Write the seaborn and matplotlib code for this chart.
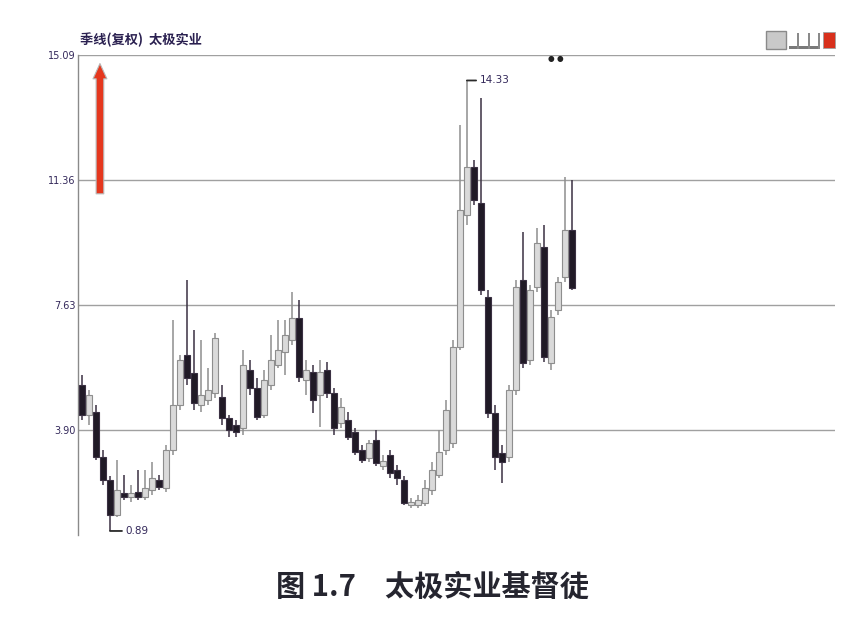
import numpy as np
import pandas as pd
import seaborn as sns
import matplotlib.pyplot as plt
from matplotlib.patches import FancyArrowPatch, Rectangle

# 季线(复权) 太极实业 —— 数值按图读取(估计)
opens = [5.24, 4.35, 4.44, 3.09, 2.41, 1.36, 2.02, 1.90, 2.05, 1.90,
         2.11, 2.41, 2.17, 3.30, 4.65, 6.14, 5.60, 4.65, 4.79, 5.00,
         4.88, 4.26, 4.05, 3.96, 5.69, 5.15, 4.35, 5.24, 5.84, 6.23,
         6.59, 7.24, 5.39, 5.63, 4.94, 5.69, 5.00, 4.11, 4.20, 3.84,
         3.30, 3.06, 3.60, 2.83, 3.15, 2.71, 2.41, 1.66, 1.66, 1.72,
         2.11, 2.56, 3.30, 3.51, 6.38, 10.32, 11.75, 10.67, 7.87, 4.41,
         3.21, 3.09, 5.09, 8.38, 5.99, 8.17, 9.36, 5.90, 7.48, 8.47, 9.87]
highs = [5.54, 5.09, 4.65, 3.30, 2.53, 3.00, 2.56, 2.26, 2.71, 2.71,
         2.94, 2.56, 3.45, 7.18, 6.14, 8.38, 6.88, 6.59, 5.75, 6.79,
         5.24, 4.35, 4.20, 6.29, 5.99, 5.45, 5.69, 6.73, 7.18, 7.18,
         8.02, 7.78, 5.99, 5.84, 5.99, 5.93, 5.15, 4.85, 4.44, 3.96,
         3.45, 3.60, 3.90, 3.15, 3.30, 2.86, 2.53, 1.87, 1.96, 2.41,
         2.94, 3.90, 4.79, 6.59, 13.00, 14.33, 11.96, 13.81, 8.08, 4.65,
         3.45, 5.24, 8.38, 9.81, 8.23, 9.93, 10.02, 7.48, 8.47, 11.45, 11.36]
lows = [4.20, 4.05, 3.00, 2.26, 0.89, 1.30, 1.81, 1.75, 1.81, 1.81,
        1.96, 2.11, 2.05, 3.15, 4.50, 5.24, 4.50, 4.44, 4.65, 4.85,
        4.05, 3.69, 3.69, 3.75, 4.94, 4.20, 4.26, 5.09, 5.75, 5.54,
        6.44, 5.33, 4.94, 4.41, 3.99, 4.85, 3.75, 3.96, 3.60, 3.15,
        2.91, 2.94, 2.83, 2.71, 2.47, 2.26, 1.66, 1.57, 1.57, 1.63,
        1.96, 2.47, 3.15, 3.36, 6.29, 10.02, 10.61, 7.93, 4.26, 2.71,
        2.32, 2.94, 4.94, 5.75, 5.84, 8.02, 5.93, 5.69, 7.33, 8.32, 8.08]
closes = [4.35, 4.94, 3.09, 2.41, 1.36, 2.11, 1.90, 2.02, 1.90, 2.17,
          2.47, 2.20, 3.30, 4.65, 5.99, 5.45, 4.71, 4.94, 5.09, 6.65,
          4.26, 3.90, 3.84, 5.84, 5.15, 4.29, 5.39, 5.99, 6.29, 6.73,
          7.24, 5.48, 5.69, 4.79, 5.63, 5.00, 3.96, 4.59, 3.69, 3.24,
          3.00, 3.51, 2.91, 2.97, 2.62, 2.47, 1.72, 1.75, 1.81, 2.17,
          2.71, 3.24, 4.50, 6.38, 10.46, 11.75, 10.76, 8.08, 4.41, 3.09,
          2.94, 5.09, 8.17, 5.90, 8.08, 9.48, 6.08, 7.27, 8.32, 9.87, 8.14]

grid_levels = [15.09, 11.36, 7.63, 3.90]
grid_labels = ['15.09', '11.36', '7.63', '3.90']

df = pd.DataFrame({'open': opens, 'high': highs, 'low': lows, 'close': closes})
df['idx'] = np.arange(len(df))
df['up'] = df['close'] >= df['open']

sns.set_theme(style='white')
plt.rcParams['font.family'] = ['Noto Sans CJK SC', 'DejaVu Sans']

fig = plt.figure(figsize=(8.52, 6.26), dpi=100, facecolor='white')
ax = fig.add_axes([78 / 852, 1 - 535 / 626, (835 - 78) / 852, (535 - 55) / 626])

txt = '#33285a'
up_fill, up_edge = '#dadada', '#8e8e8e'
dn_fill, dn_edge = '#201a26', '#3a3042'

for lv in grid_levels:
    ax.axhline(lv, color='#a0a0a0', lw=1.0, zorder=1)

edges = np.where(df['up'], up_edge, dn_edge)
fills = np.where(df['up'], up_fill, dn_fill)
ax.vlines(df['idx'], df['low'], df['high'], colors=edges, lw=1.1, zorder=2)
body_lo = df[['open', 'close']].min(axis=1)
body_h = (df['close'] - df['open']).abs().clip(lower=0.06)
ax.bar(df['idx'], body_h, bottom=body_lo, width=0.82, color=fills,
       edgecolor=edges, linewidth=0.8, zorder=3)

# 最高 / 最低价标注
hi = df['high'].idxmax()
lo = df['low'].idxmin()
ax.annotate(f"{df['high'][hi]:.2f}", xy=(hi, df['high'][hi]), xytext=(9, 0),
            textcoords='offset points', va='center', fontsize=7.5, color=txt,
            family=['DejaVu Sans'],
            arrowprops=dict(arrowstyle='-', color='#2a2a2a', lw=1.3, shrinkA=0, shrinkB=0))
ax.annotate(f"{df['low'][lo]:.2f}", xy=(lo, df['low'][lo]), xytext=(11, 0),
            textcoords='offset points', va='center', fontsize=7.5, color=txt,
            family=['DejaVu Sans'],
            arrowprops=dict(arrowstyle='-', color='#2a2a2a', lw=1.3, shrinkA=0, shrinkB=0))

ax.set_xlim(-0.57, 107.6)
ax.set_ylim(0.77, 15.09)
ax.set_yticks(grid_levels)
ax.set_yticklabels(grid_labels, fontsize=7, color=txt, family=['DejaVu Sans'])
ax.set_xticks([])
ax.tick_params(axis='y', length=0, pad=2)
sns.despine(ax=ax, top=True, right=True, bottom=True)
ax.spines['left'].set_color('#8a8a8a')
ax.spines['left'].set_linewidth(1.0)

# 红色箭头
arrow = FancyArrowPatch((0.029, 0.705), (0.029, 0.988), transform=ax.transAxes,
                        arrowstyle='simple,head_width=1.0,head_length=1.1,tail_width=0.55',
                        mutation_scale=10, fc='#e5371e', ec='#b8b8b8', lw=0.8,
                        zorder=5, clip_on=False)
ax.add_patch(arrow)

ax.text(0.621, 0.993, '● ●', transform=ax.transAxes, fontsize=5.5, color='#222222',
        va='center', ha='left', family=['DejaVu Sans'])

fig.text(80 / 852, 1 - 40 / 626, '季线(复权)  太极实业', fontsize=9.5, color='#2a2050',
         weight='bold', va='center', ha='left')

# 右上角小图标
fig.patches.append(Rectangle((766 / 852, 1 - 49 / 626), 20 / 852, 18 / 626,
                             transform=fig.transFigure, fc='#c9c9c9', ec='#8a8a8a', lw=1))
fig.patches.append(Rectangle((789 / 852, 1 - 49 / 626), 30 / 852, 3 / 626,
                             transform=fig.transFigure, fc='#7a7a7a', ec='none'))
for xx in [797, 808, 818]:
    fig.patches.append(Rectangle((xx / 852, 1 - 49 / 626), 2 / 852, 16 / 626,
                                 transform=fig.transFigure, fc='#8a8a8a', ec='none'))
fig.patches.append(Rectangle((823 / 852, 1 - 48 / 626), 12 / 852, 16 / 626,
                             transform=fig.transFigure, fc='#d8301c', ec='#a0a0a0', lw=0.6))

fig.text(0.507, 1 - 587 / 626, '图 1.7　太极实业基督徒', fontsize=21, color='#25252f',
         weight='bold', ha='center', va='center')

fig.savefig('out.png', dpi=100, facecolor='white')
